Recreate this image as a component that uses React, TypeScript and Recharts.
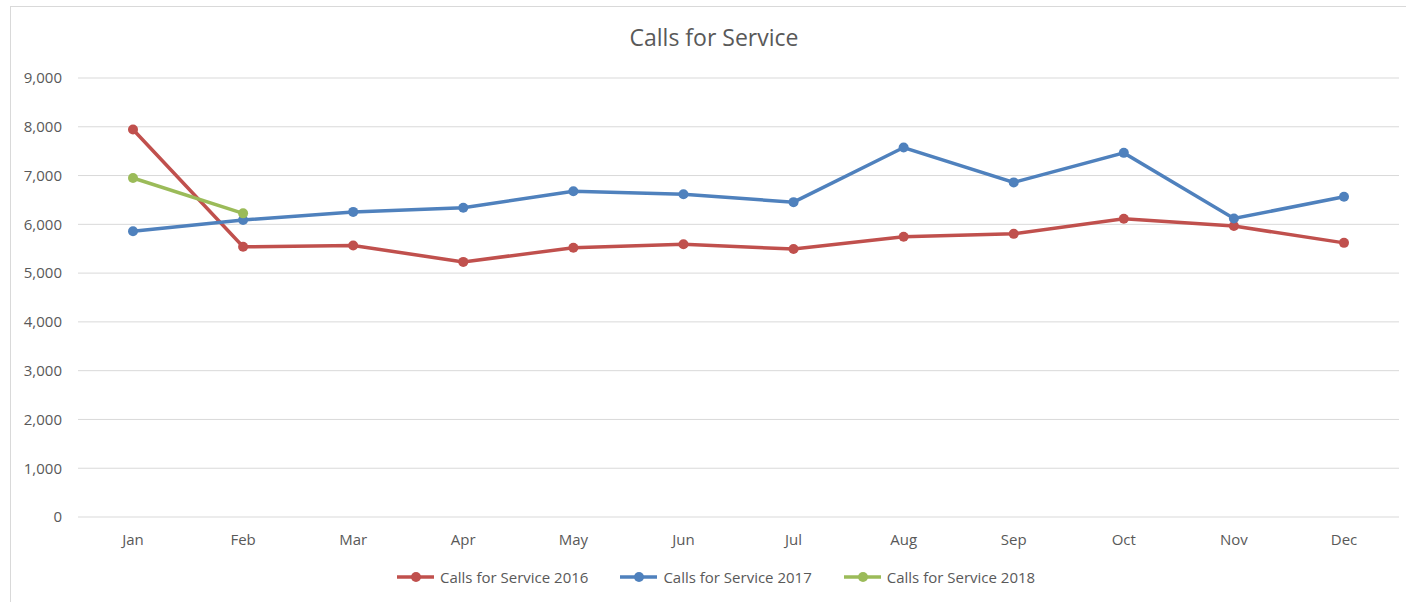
import React from "react";
import { LineChart, Line, XAxis, YAxis, CartesianGrid } from "recharts";

const months = ["Jan", "Feb", "Mar", "Apr", "May", "Jun", "Jul", "Aug", "Sep", "Oct", "Nov", "Dec"];
const calls2016 = [7945, 5540, 5565, 5230, 5520, 5590, 5495, 5745, 5805, 6115, 5965, 5620];
const calls2017 = [5860, 6090, 6255, 6340, 6680, 6615, 6455, 7575, 6860, 7465, 6120, 6565];
const calls2018: (number | null)[] = [6950, 6225, null, null, null, null, null, null, null, null, null, null];
const yTicks = [0, 1000, 2000, 3000, 4000, 5000, 6000, 7000, 8000, 9000];

const series = [
  { key: "s2016", name: "Calls for Service 2016", color: "#C0504D" },
  { key: "s2017", name: "Calls for Service 2017", color: "#4F81BD" },
  { key: "s2018", name: "Calls for Service 2018", color: "#9BBB59" },
];

const data = months.map((m, i) => ({
  month: m,
  s2016: calls2016[i],
  s2017: calls2017[i],
  s2018: calls2018[i],
}));

const FONT = "'Open Sans', sans-serif";
const TEXT = "#595959";

export default function App() {
  return (
    <div style={{ position: "absolute", left: 0, top: 0, width: 1406, height: 602, overflow: "hidden", background: "#fff", fontFamily: FONT }}>
      <div style={{ position: "absolute", left: 10, top: 6, width: 1420, height: 620, border: "1px solid #d9d9d9", boxSizing: "border-box" }} />
      <div style={{ position: "absolute", left: 0, top: 26, width: 1428, textAlign: "center", fontSize: 23, lineHeight: "23px", color: TEXT }}>
        Calls for Service
      </div>
      <div style={{ position: "absolute", left: 0, top: 0 }}>
        <LineChart width={1406} height={602} data={data} margin={{ top: 78, right: 7, bottom: 55, left: 10 }}>
          <CartesianGrid vertical={false} stroke="#d9d9d9" strokeWidth={1} />
          <XAxis
            dataKey="month"
            height={30}
            padding={{ left: 55, right: 55 }}
            axisLine={false}
            tickLine={false}
            tickSize={0}
            tickMargin={17}
            interval={0}
            tick={{ fill: TEXT, fontSize: 15, fontFamily: FONT }}
          />
          <YAxis
            width={68}
            domain={[0, 9000]}
            ticks={yTicks}
            axisLine={false}
            tickLine={false}
            tickSize={0}
            tickMargin={16}
            tickFormatter={(v: number) => v.toLocaleString("en-US")}
            tick={{ fill: TEXT, fontSize: 15, fontFamily: FONT }}
          />
          {series.map((s) => (
            <Line
              key={s.key}
              dataKey={s.key}
              name={s.name}
              type="linear"
              stroke={s.color}
              strokeWidth={3.5}
              dot={{ r: 5, fill: s.color, stroke: s.color, strokeWidth: 0 }}
              activeDot={false}
              isAnimationActive={false}
            />
          ))}
        </LineChart>
      </div>
      <div style={{ position: "absolute", left: 397, top: 567, display: "flex", gap: 32, alignItems: "center", height: 20 }}>
        {series.map((s) => (
          <div key={s.key} style={{ display: "flex", alignItems: "center" }}>
            <svg width={40} height={20} style={{ display: "block" }}>
              <line x1={0} y1={10} x2={37} y2={10} stroke={s.color} strokeWidth={3.5} />
              <circle cx={19} cy={10} r={5} fill={s.color} />
            </svg>
            <span style={{ fontSize: 15, lineHeight: "20px", color: TEXT, marginLeft: 3, whiteSpace: "nowrap" }}>{s.name}</span>
          </div>
        ))}
      </div>
    </div>
  );
}
